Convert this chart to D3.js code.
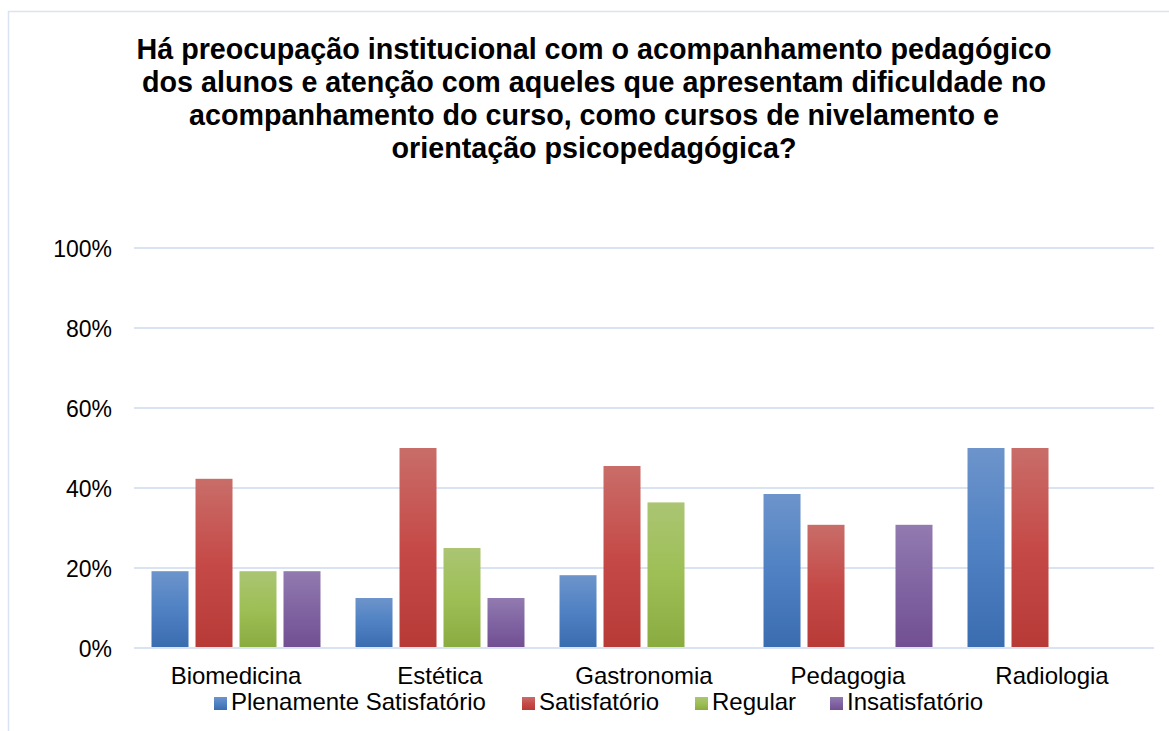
<!DOCTYPE html>
<html>
<head>
<meta charset="utf-8">
<script src="https://cdn.jsdelivr.net/npm/d3@7/dist/d3.min.js"></script>
<style>
  html, body { margin: 0; padding: 0; background: #fff; }
  svg { display: block; font-family: "Liberation Sans", Arial, sans-serif; }
</style>
</head>
<body>
<svg id="chart" width="1169" height="731"></svg>
<script>
// Survey answers per course (share of respondents)
const categories = ["Biomedicina", "Estética", "Gastronomia", "Pedagogia", "Radiologia"];
const seriesNames = ["Plenamente Satisfatório", "Satisfatório", "Regular", "Insatisfatório"];
const plenamente   = [0.192, 0.125, 0.182, 0.385, 0.50];
const satisfatorio = [0.423, 0.50, 0.455, 0.308, 0.50];
const regular      = [0.192, 0.25, 0.364, 0, 0];
const insatisfatorio = [0.192, 0.125, 0, 0.308, 0];
const yTicks = [0, 0.2, 0.4, 0.6, 0.8, 1.0];
const titleLines = [
  "Há preocupação institucional com o acompanhamento pedagógico",
  "dos alunos e atenção com aqueles que apresentam dificuldade no",
  "acompanhamento do curso, como cursos de nivelamento e",
  "orientação psicopedagógica?"
];

const seriesValues = [plenamente, satisfatorio, regular, insatisfatorio];
const palette = [
  { top: "#6d94cb", mid: "#4f81c3", bot: "#3a6cb0" },
  { top: "#c96d69", mid: "#c54a47", bot: "#b73a37" },
  { top: "#abc573", mid: "#9dbf55", bot: "#89ab40" },
  { top: "#927bb0", mid: "#8064a2", bot: "#724f92" }
];

const svg = d3.select("#chart");
const gridColor = "#d9e3f2";

// outer frame of the chart area
svg.append("rect")
  .attr("x", 8.5).attr("y", 11.5)
  .attr("width", 1200).attr("height", 760)
  .attr("fill", "none").attr("stroke", gridColor).attr("stroke-width", 1.5);

// gradients
const defs = svg.append("defs");
palette.forEach((p, i) => {
  const g = defs.append("linearGradient")
    .attr("id", "grad" + i)
    .attr("x1", 0).attr("y1", 0).attr("x2", 0).attr("y2", 1);
  g.append("stop").attr("offset", "0%").attr("stop-color", p.top);
  g.append("stop").attr("offset", "50%").attr("stop-color", p.mid);
  g.append("stop").attr("offset", "100%").attr("stop-color", p.bot);
});

// title
const title = svg.append("text")
  .attr("text-anchor", "middle")
  .attr("font-weight", "bold")
  .attr("font-size", 28.7)
  .attr("fill", "#000");
titleLines.forEach((t, i) => {
  title.append("tspan").attr("x", 594).attr("y", 59 + i * 33).text(t);
});

// scales
const x0 = d3.scaleBand().domain(categories).range([134, 1154]);
const x1 = d3.scaleBand().domain(d3.range(seriesNames.length))
  .range([0, x0.bandwidth()]).paddingInner(0.159).paddingOuter(0.398);
const y = d3.scaleLinear().domain([0, 1]).range([648, 248]);

// gridlines
svg.append("g").selectAll("line").data(yTicks).join("line")
  .attr("x1", 134).attr("x2", 1154)
  .attr("y1", d => y(d)).attr("y2", d => y(d))
  .attr("stroke", gridColor).attr("stroke-width", 2);

// y axis labels
const yAxis = d3.axisLeft(y).tickValues(yTicks).tickFormat(d3.format(".0%")).tickSize(0).tickPadding(0);
const yg = svg.append("g").attr("transform", "translate(112,0)").call(yAxis);
yg.select(".domain").remove();
yg.selectAll("text").attr("font-size", 23).attr("font-family", "Liberation Sans, Arial, sans-serif")
  .attr("fill", "#000").attr("dy", "0.35em");

// bars
const groups = svg.append("g").selectAll("g").data(categories).join("g")
  .attr("transform", d => `translate(${x0(d)},0)`);
groups.selectAll("rect")
  .data((c, ci) => seriesValues.map((vals, si) => ({ si, v: vals[ci] })).filter(d => d.v > 0))
  .join("rect")
  .attr("x", d => x1(d.si))
  .attr("width", x1.bandwidth())
  .attr("y", d => y(d.v))
  .attr("height", d => y(0) - y(d.v) - 1)
  .attr("fill", d => `url(#grad${d.si})`);

// category labels
const xAxis = d3.axisBottom(x0).tickSize(0).tickPadding(0);
const xg = svg.append("g").attr("transform", "translate(0,667)").call(xAxis);
xg.select(".domain").remove();
xg.selectAll("text").attr("font-size", 24).attr("font-family", "Liberation Sans, Arial, sans-serif")
  .attr("fill", "#000").attr("dy", "0.72em");

// legend
const legendX = [214, 522, 695, 830];
const legend = svg.append("g").selectAll("g").data(seriesNames).join("g")
  .attr("transform", (d, i) => `translate(${legendX[i]},697)`);
legend.append("rect").attr("width", 13).attr("height", 13)
  .attr("fill", (d, i) => `url(#grad${i})`);
legend.append("text").attr("x", 17).attr("y", 12.5)
  .attr("font-size", 24).attr("fill", "#000").text(d => d);
</script>
</body>
</html>
